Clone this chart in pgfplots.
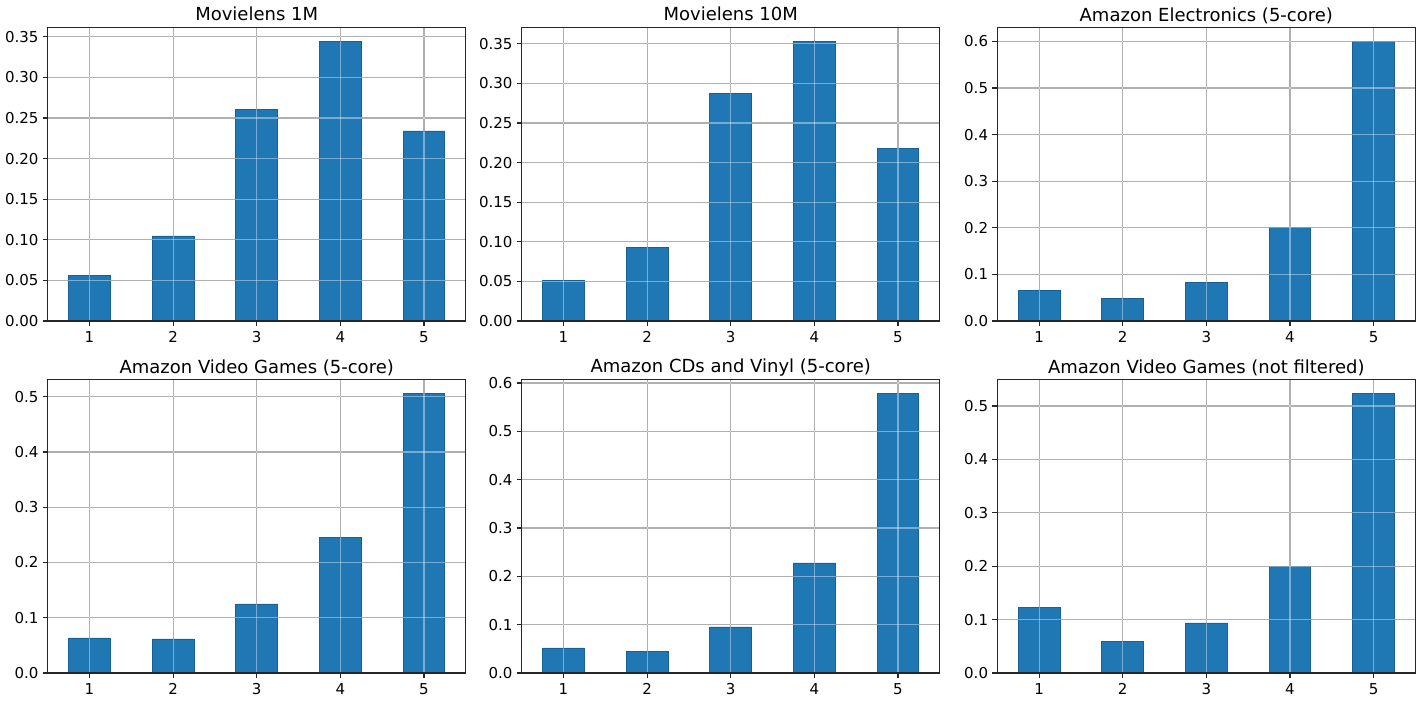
\documentclass[border=0pt]{standalone}
\usepackage{fontspec}
\setmainfont{DejaVu Sans}
\usepackage{pgfplots}
\pgfplotsset{compat=1.18}

\definecolor{barblue}{RGB}{31,119,180}
\definecolor{baredge}{RGB}{26,96,146}
\definecolor{gridgray}{RGB}{125,125,125}
\definecolor{screengray}{RGB}{100,100,100}

% common frame of every panel
\pgfplotsset{
  frame/.style={
    scale only axis, width=209pt, height=146.8pt, anchor=south west,
    xmin=0.5, xmax=5.5, ymin=0, xtick={1,2,3,4,5},
    scaled y ticks=false,
    axis line style={black!85, line width=0.6pt},
  },
  panel/.style={
    frame, ybar, bar width=0.5,
    tick align=outside, xtick pos=bottom, ytick pos=left,
    major tick length=2.6pt,
    tick style={black!85, line width=0.6pt},
    grid=major, grid style={gridgray, line width=0.6pt},
    ticklabel style={font=\fontsize{7.5}{9}\selectfont},
    xticklabel style={yshift=0.8pt},
    /pgf/number format/assume math mode=true,
    every axis title/.style={at={(0.5,1)}, anchor=base, yshift=3.2pt,
      font=\fontsize{9}{11}\selectfont},
  },
  % light lines across the bars
  overgrid/.style={
    frame, grid=major, grid style={screengray, blend mode=screen, line width=0.6pt},
    tick style={draw=none}, xticklabels={}, yticklabels={},
  },
}

\newcommand{\panel}[7]{%
  \begin{axis}[panel, at={(#1,#2)}, title={#3}, ymax=#4, ytick={#5},
      yticklabel style={xshift=1.5pt, /pgf/number format/.cd, fixed, fixed zerofill, precision=#6}]
    \addplot[fill=barblue, draw=baredge, line width=0.4pt] coordinates {#7};
  \end{axis}
  \begin{axis}[overgrid, at={(#1,#2)}, ymax=#4, ytick={#5}]
  \end{axis}}

\begin{document}
\begin{tikzpicture}
\useasboundingbox (0,0) rectangle (711pt,351pt);

\panel{23.85pt}{190.5pt}{Movielens 1M}{0.3616}{0,0.05,0.1,0.15,0.2,0.25,0.3,0.35}{2}
  {(1,0.0566) (2,0.1047) (3,0.261) (4,0.344) (5,0.234)}
\panel{260.85pt}{190.5pt}{Movielens 10M}{0.3707}{0,0.05,0.1,0.15,0.2,0.25,0.3,0.35}{2}
  {(1,0.0514) (2,0.0934) (3,0.2875) (4,0.353) (5,0.2184)}
\panel{498.65pt}{190.5pt}{Amazon Electronics (5-core)}{0.630}{0,0.1,0.2,0.3,0.4,0.5,0.6}{1}
  {(1,0.066) (2,0.0487) (3,0.083) (4,0.201) (5,0.600)}

\panel{23.85pt}{14.5pt}{Amazon Video Games (5-core)}{0.5314}{0,0.1,0.2,0.3,0.4,0.5}{1}
  {(1,0.0634) (2,0.0616) (3,0.125) (4,0.2458) (5,0.506)}
\panel{260.85pt}{14.5pt}{Amazon CDs and Vinyl (5-core)}{0.6075}{0,0.1,0.2,0.3,0.4,0.5,0.6}{1}
  {(1,0.0518) (2,0.045) (3,0.0952) (4,0.2277) (5,0.579)}
\panel{498.65pt}{14.5pt}{Amazon Video Games (not filtered)}{0.550}{0,0.1,0.2,0.3,0.4,0.5}{1}
  {(1,0.122) (2,0.0594) (3,0.0938) (4,0.1994) (5,0.524)}
\end{tikzpicture}
\end{document}
